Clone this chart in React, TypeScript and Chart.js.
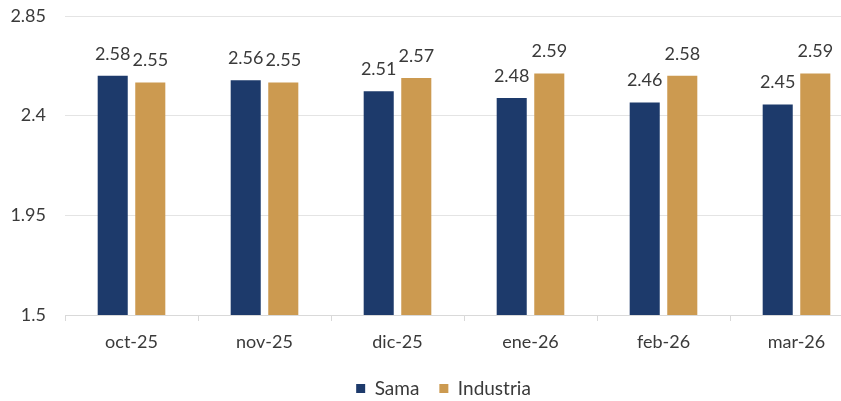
import React, { useEffect, useRef } from "react";
import { Chart, registerables } from "chart.js";

Chart.register(...registerables);

const categories = ["oct-25", "nov-25", "dic-25", "ene-26", "feb-26", "mar-26"];
const samaValues = [2.58, 2.56, 2.51, 2.48, 2.46, 2.45];
const industriaValues = [2.55, 2.55, 2.57, 2.59, 2.58, 2.59];
const yTickValues = [1.5, 1.95, 2.4, 2.85];
const yTickLabels = ["1.5", "1.95", "2.4", "2.85"];

const FONT = "Lato, 'Open Sans', sans-serif";
const TEXT = "#3a3a3a";

const dataLabelPlugin = {
  id: "dataLabels",
  afterDatasetsDraw(chart: any) {
    const ctx = chart.ctx;
    ctx.save();
    ctx.font = `18px ${FONT}`;
    ctx.fillStyle = TEXT;
    ctx.textAlign = "center";
    ctx.textBaseline = "middle";
    chart.data.datasets.forEach((ds: any, di: number) => {
      const meta = chart.getDatasetMeta(di);
      meta.data.forEach((bar: any, i: number) => {
        ctx.fillText(ds.data[i].toFixed(2), bar.x, bar.y - 22);
      });
    });
    ctx.restore();
  },
};

export default function App() {
  const ref = useRef<HTMLCanvasElement | null>(null);
  useEffect(() => {
    document.body.style.overflow = "hidden";
    const chart = new Chart(ref.current as HTMLCanvasElement, {
      type: "bar",
      data: {
        labels: categories,
        datasets: [
          {
            label: "Sama",
            data: samaValues,
            backgroundColor: "#1d3a6b",
            categoryPercentage: 0.565,
            barPercentage: 0.8,
          },
          {
            label: "Industria",
            data: industriaValues,
            backgroundColor: "#cc9a50",
            categoryPercentage: 0.565,
            barPercentage: 0.8,
          },
        ],
      },
      options: {
        responsive: false,
        animation: false,
        layout: { padding: { top: 16, left: 0, right: 0, bottom: 0 } },
        plugins: {
          legend: {
            position: "bottom",
            labels: {
              boxWidth: 9,
              boxHeight: 9,
              padding: 20,
              color: TEXT,
              font: { family: FONT, size: 19 },
            },
          },
          tooltip: { enabled: false },
        },
        scales: {
          x: {
            grid: {
              display: true,
              drawOnChartArea: false,
              drawTicks: true,
              tickLength: 6,
              color: "#d9d9d9",
              offset: true,
            },
            border: { display: true, color: "#d9d9d9", width: 1 },
            ticks: { color: TEXT, font: { family: FONT, size: 18 }, padding: 10 },
            afterFit: (s: any) => {
              s.height = 44;
            },
          },
          y: {
            min: 1.5,
            max: 2.85,
            afterBuildTicks: (s: any) => {
              s.ticks = yTickValues.map((v) => ({ value: v }));
            },
            grid: { color: "#e4e4e4", drawTicks: false },
            border: { display: false },
            ticks: {
              color: TEXT,
              font: { family: FONT, size: 18 },
              padding: 19,
              callback: (_v: any, i: number) => yTickLabels[i],
            },
            afterFit: (s: any) => {
              s.width = 65;
              s.paddingTop = 0;
              s.paddingBottom = 0;
            },
          },
          y2: {
            position: "right",
            display: true,
            grid: { display: false },
            border: { display: false },
            ticks: { display: false },
            afterFit: (s: any) => {
              s.width = 24;
              s.paddingTop = 0;
              s.paddingBottom = 0;
            },
          },
        },
      },
      plugins: [dataLabelPlugin],
    });
    return () => chart.destroy();
  }, []);
  return (
    <div style={{ position: "absolute", left: 0, top: 0, width: 887, height: 408 }}>
      <canvas ref={ref} width={887} height={408} />
    </div>
  );
}
